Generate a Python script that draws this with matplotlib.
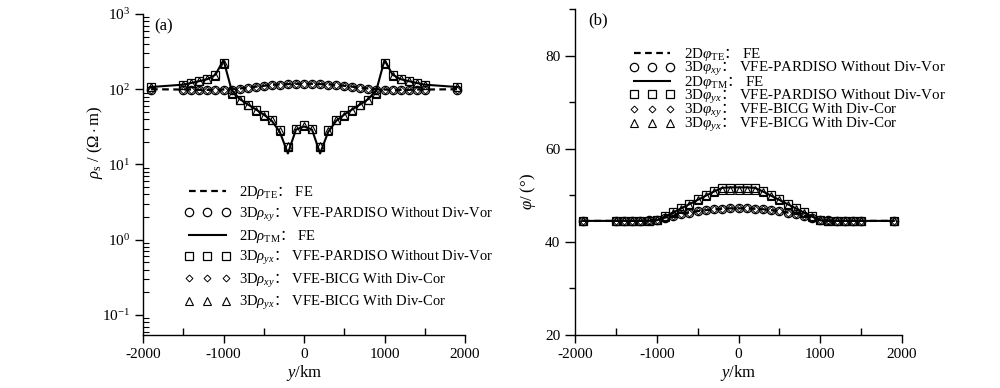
import matplotlib
matplotlib.use('Agg')
import matplotlib.pyplot as plt
from matplotlib.ticker import MultipleLocator, LogLocator, NullFormatter, FixedLocator

plt.rcParams['font.family'] = ['Liberation Serif', 'Noto Sans CJK SC']
plt.rcParams['mathtext.fontset'] = 'custom'
plt.rcParams['mathtext.rm'] = 'Liberation Serif'
plt.rcParams['mathtext.it'] = 'Liberation Serif:italic'
plt.rcParams['mathtext.bf'] = 'Liberation Serif:bold'
plt.rcParams['mathtext.sf'] = 'Noto Sans CJK SC'
plt.rcParams['axes.unicode_minus'] = False

# station positions (km)
stations = [-1900, -1500, -1400, -1300, -1200, -1100, -1000, -900, -800, -700, -600,
            -500, -400, -300, -200, -100, 0, 100, 200, 300, 400, 500, 600, 700, 800,
            900, 1000, 1100, 1200, 1300, 1400, 1500, 1900]

# apparent resistivity (Ohm.m)
rho_te_2d = [100, 99, 99, 98, 98, 98, 99, 100, 102, 105, 108, 111, 114, 116, 117, 118, 118,
             118, 117, 116, 114, 111, 108, 105, 102, 100, 99, 98, 98, 98, 99, 99, 100]
rho_xy_pardiso = [98, 97, 97, 97, 97, 97, 98, 99, 101, 104, 107, 110, 113, 115, 117, 118, 118,
                  118, 117, 115, 113, 110, 107, 104, 101, 99, 98, 97, 97, 97, 97, 97, 98]
rho_tm_2d = [107, 115, 121, 128, 136, 156, 244, 98, 74, 63, 54, 46, 38, 27, 14, 29, 32,
             29, 14, 27, 38, 46, 54, 63, 74, 98, 244, 156, 136, 128, 121, 115, 107]
rho_yx_pardiso = [107, 115, 121, 128, 136, 154, 222, 88, 72, 62, 53, 45, 39, 28.5, 17, 30, 33,
                  30, 17, 28.5, 39, 45, 53, 62, 72, 88, 222, 154, 136, 128, 121, 115, 107]
rho_xy_bicg = [98, 97, 97, 97, 97, 97, 98, 99, 101, 104, 107, 110, 113, 115, 117, 118, 118,
               118, 117, 115, 113, 110, 107, 104, 101, 99, 98, 97, 97, 97, 97, 97, 98]
rho_yx_bicg = [106, 114, 120, 127, 135, 152, 218, 87, 71, 61, 52, 44.5, 38.5, 28, 17.5, 29.5, 32.5,
               29.5, 17.5, 28, 38.5, 44.5, 52, 61, 71, 87, 218, 152, 135, 127, 120, 114, 106]

# impedance phase (degrees)
phi_te_2d = [44.5, 44.5, 44.5, 44.5, 44.5, 44.6, 44.8, 45.2, 45.6, 46.0, 46.3, 46.6, 46.8, 47.0, 47.1, 47.2, 47.2,
             47.2, 47.1, 47.0, 46.8, 46.6, 46.3, 46.0, 45.6, 45.2, 44.8, 44.6, 44.5, 44.5, 44.5, 44.5, 44.5]
phi_xy_pardiso = [44.5, 44.5, 44.5, 44.5, 44.5, 44.6, 44.7, 45.1, 45.6, 46.0, 46.3, 46.6, 46.8, 47.0, 47.1, 47.2, 47.2,
                  47.2, 47.1, 47.0, 46.8, 46.6, 46.3, 46.0, 45.6, 45.1, 44.7, 44.6, 44.5, 44.5, 44.5, 44.5, 44.5]
phi_tm_2d = [44.5, 44.5, 44.5, 44.5, 44.5, 44.5, 44.6, 45.4, 46.3, 47.2, 48.1, 49.0, 49.9, 50.8, 51.6, 51.7, 51.7,
             51.7, 51.6, 50.8, 49.9, 49.0, 48.1, 47.2, 46.3, 45.4, 44.6, 44.5, 44.5, 44.5, 44.5, 44.5, 44.5]
phi_yx_pardiso = [44.5, 44.5, 44.5, 44.5, 44.5, 44.5, 44.7, 45.5, 46.4, 47.3, 48.2, 49.1, 50.0, 50.9, 51.6, 51.6, 51.6,
                  51.6, 51.6, 50.9, 50.0, 49.1, 48.2, 47.3, 46.4, 45.5, 44.7, 44.5, 44.5, 44.5, 44.5, 44.5, 44.5]
phi_xy_bicg = [44.5, 44.5, 44.5, 44.5, 44.5, 44.6, 44.7, 45.1, 45.6, 46.0, 46.3, 46.6, 46.8, 47.0, 47.1, 47.2, 47.2,
               47.2, 47.1, 47.0, 46.8, 46.6, 46.3, 46.0, 45.6, 45.1, 44.7, 44.6, 44.5, 44.5, 44.5, 44.5, 44.5]
phi_yx_bicg = [44.4, 44.4, 44.4, 44.4, 44.4, 44.4, 44.6, 45.3, 46.2, 47.1, 48.0, 48.9, 49.8, 50.6, 51.1, 51.1, 51.1,
               51.1, 51.1, 50.6, 49.8, 48.9, 48.0, 47.1, 46.2, 45.3, 44.6, 44.4, 44.4, 44.4, 44.4, 44.4, 44.4]

C = r'\mathsf{：}'
labels_a = [r'2D$\rho_{\mathrm{TE}}' + C + r'$ FE',
            r'3D$\rho_{xy}' + C + r'$ VFE-PARDISO Without Div-Vor',
            r'2D$\rho_{\mathrm{TM}}' + C + r'$ FE',
            r'3D$\rho_{yx}' + C + r'$ VFE-PARDISO Without Div-Vor',
            r'3D$\rho_{xy}' + C + r'$ VFE-BICG With Div-Cor',
            r'3D$\rho_{yx}' + C + r'$ VFE-BICG With Div-Cor']
labels_b = [r'2D$\varphi_{\mathrm{TE}}' + C + r'$ FE',
            r'3D$\varphi_{xy}' + C + r'$ VFE-PARDISO Without Div-Vor',
            r'2D$\varphi_{\mathrm{TM}}' + C + r'$ FE',
            r'3D$\varphi_{yx}' + C + r'$ VFE-PARDISO Without Div-Vor',
            r'3D$\varphi_{xy}' + C + r'$ VFE-BICG With Div-Cor',
            r'3D$\varphi_{yx}' + C + r'$ VFE-BICG With Div-Cor']

fig = plt.figure(figsize=(10, 3.88), dpi=100)
ax_a = fig.add_axes([0.143, 0.1366, 0.322, 0.8273])
ax_b = fig.add_axes([0.575, 0.1366, 0.327, 0.8402])


def draw_panel(ax, te, xy_p, tm, yx_p, xy_b, yx_b, labels):
    ax.plot(stations, te, ls=(0, (3, 2)), color='k', lw=1.6, label=labels[0], zorder=3)
    ax.plot(stations, xy_p, ls='none', marker='o', ms=6, mfc='none', mec='k', mew=0.9,
            label=labels[1], zorder=4)
    ax.plot(stations, tm, ls='-', color='k', lw=1.5, label=labels[2], zorder=3)
    ax.plot(stations, yx_p, ls='none', marker='s', ms=6, mfc='none', mec='k', mew=0.9,
            label=labels[3], zorder=4)
    ax.plot(stations, xy_b, ls='none', marker='D', ms=3.5, mfc='none', mec='k', mew=0.7,
            label=labels[4], zorder=5)
    ax.plot(stations, yx_b, ls='none', marker='^', ms=5.5, mfc='none', mec='k', mew=0.8,
            label=labels[5], zorder=5)
    ax.set_xlim(-2000, 2000)
    ax.xaxis.set_major_locator(MultipleLocator(1000))
    ax.xaxis.set_minor_locator(MultipleLocator(500))
    ax.tick_params(axis='x', which='major', direction='out', length=6, width=1, labelsize=11)
    ax.tick_params(axis='x', which='minor', direction='in', length=5, width=1)
    ax.set_xlabel('$y$/km', fontsize=12, labelpad=1)
    for s in ['top', 'right']:
        ax.spines[s].set_visible(False)
    for s in ['left', 'bottom']:
        ax.spines[s].set_linewidth(1.0)


draw_panel(ax_a, rho_te_2d, rho_xy_pardiso, rho_tm_2d, rho_yx_pardiso, rho_xy_bicg, rho_yx_bicg, labels_a)
ax_a.set_yscale('log')
ax_a.set_ylim(0.054, 1000)
ax_a.yaxis.set_major_locator(LogLocator(base=10, numticks=10))
ax_a.yaxis.set_minor_locator(LogLocator(base=10, subs=range(2, 10), numticks=10))
ax_a.yaxis.set_minor_formatter(NullFormatter())
ax_a.tick_params(axis='y', which='major', direction='out', length=6, width=1, labelsize=11)
ax_a.tick_params(axis='y', which='minor', direction='in', length=4, width=0.8)
ax_a.set_ylabel(r'$\rho_{\mathrm{s}}$ / ($\Omega\cdot$m)', fontsize=12)
ax_a.yaxis.set_label_coords(-0.118, 0.6)
ax_a.text(0.035, 0.96, '(a)', transform=ax_a.transAxes, fontsize=12, va='center')
ax_a.legend(loc='upper left', bbox_to_anchor=(0.13, 0.47), frameon=False, fontsize=10.5,
            numpoints=3, handlelength=3.1, handletextpad=0.6, labelspacing=0.3,
            borderpad=0, borderaxespad=0)

draw_panel(ax_b, phi_te_2d, phi_xy_pardiso, phi_tm_2d, phi_yx_pardiso, phi_xy_bicg, phi_yx_bicg, labels_b)
ax_b.set_ylim(20, 90)
ax_b.yaxis.set_major_locator(FixedLocator([20, 40, 60, 80]))
ax_b.yaxis.set_minor_locator(MultipleLocator(10))
ax_b.tick_params(axis='y', which='major', direction='out', length=7, width=1, labelsize=11)
ax_b.tick_params(axis='y', which='minor', direction='out', length=4, width=1)
ax_b.set_ylabel(r'$\varphi$/ (°)', fontsize=12)
ax_b.yaxis.set_label_coords(-0.113, 0.44)
ax_b.text(0.04, 0.965, '(b)', transform=ax_b.transAxes, fontsize=12, va='center')
ax_b.legend(loc='upper left', bbox_to_anchor=(0.168, 0.885), frameon=False, fontsize=10.8,
            numpoints=3, handlelength=3.0, handletextpad=0.6, labelspacing=-0.24,
            borderpad=0, borderaxespad=0)

fig.savefig('out.png', dpi=100)
